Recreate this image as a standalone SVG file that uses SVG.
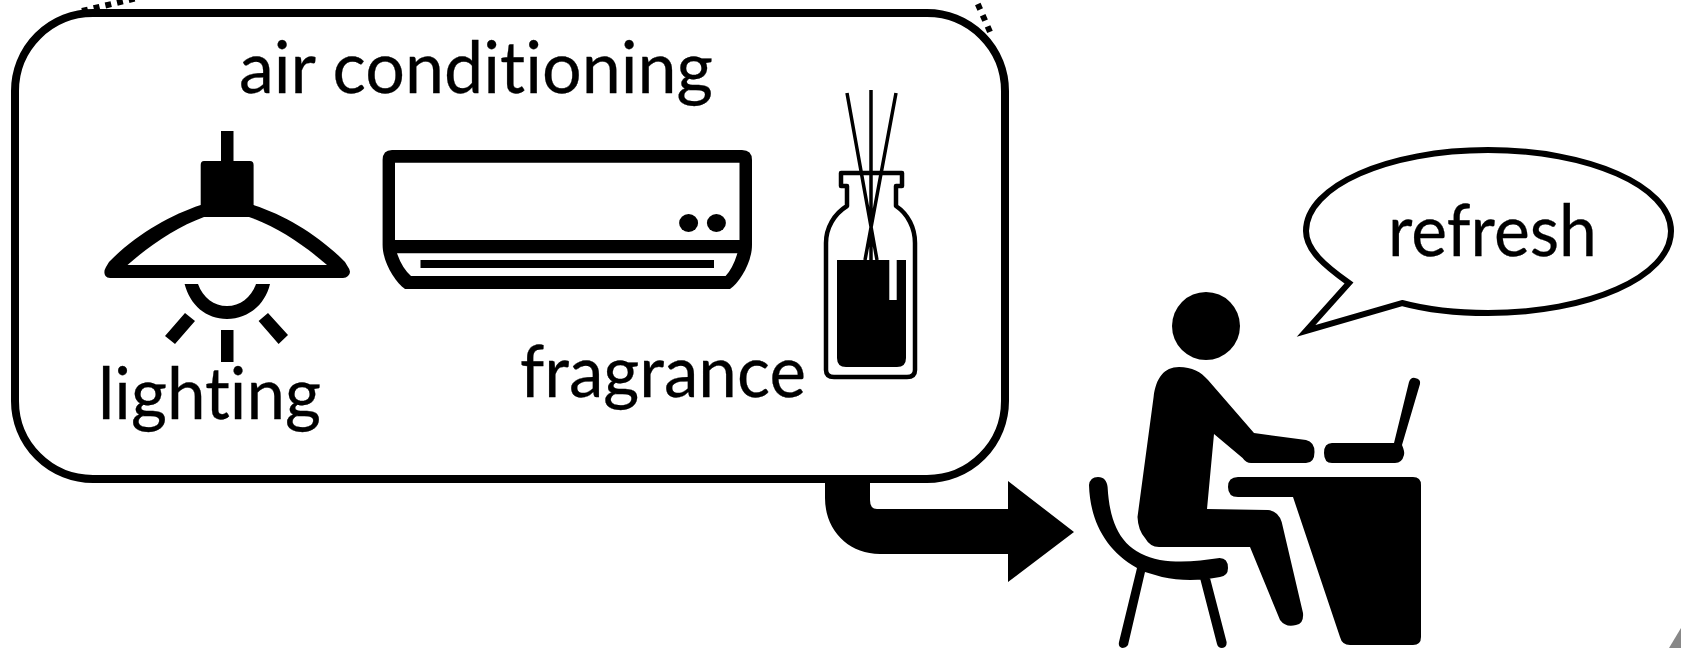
<svg xmlns="http://www.w3.org/2000/svg" width="1681" height="648" viewBox="0 0 1681 648">
<style>
.t{font-family:Lato,"Liberation Sans",sans-serif;font-size:71px;fill:#000;stroke:#000;stroke-width:.3px;font-variant-ligatures:none}
.k{fill:#000}
.w{fill:#fff}
.o{fill:none;stroke:#000}
.f{fill:#fff;stroke:#000}
</style>
<rect width="1681" height="648" fill="#fff"/>
<g id="background-marks">
<path class="o" d="M82 11L135 -1.500" stroke-width="6" stroke-dasharray="6 6"/>
<path class="o" d="M977.800 4L990.500 33" stroke-width="6" stroke-dasharray="6 6.200"/>
<path d="M1681 628L1669 648H1681Z" fill="#888"/>
</g>
<g id="connectors">
<path class="k" d="M825 480H870V500Q870 509 877 509H1008V481L1074 532L1008 582V554H880C848 554 825 530 825 498Z"/>
</g>
<g id="environment-box">
<rect class="f" x="15" y="13" width="990" height="466" rx="78" ry="78" stroke-width="8"/>
<text class="t" x="239" y="93" textLength="474" lengthAdjust="spacingAndGlyphs">air conditioning</text>
</g>
<g id="lighting">
<path class="k" d="M221 131H233.500V161H250Q253.600 161 253.600 165V205C285 215 320 236 345 262L348 267Q352 272 348 276Q346 278 343 278H110Q107 278 105.500 276Q103 272 106 267L109 262C134 236 170 215 200.700 205V165Q200.700 161 204 161H221Z"/>
<path class="w" d="M204 217H249C277 227 304 245 327 265H127.500C150 245 177 227 204 217Z"/>
<path class="k" d="M184.600 284H198C203 298 214 306 227 306C240 306 251 298 256 284H270C265 305 248 319 227 319C206 319 190 305 184.600 284Z"/>
<path class="k" d="M221 330H233.500V362H221ZM185 313L195 321L175 344L165 336ZM268 313L258.600 321L278.600 344L288 335Z"/>
<text class="t" x="98" y="419" textLength="223" lengthAdjust="spacingAndGlyphs">lighting</text>
</g>
<g id="air-conditioner">
<path class="k" d="M392 150H742Q752 150 752 160V245C752 262 740 282 730 289H405C395 282 382.600 262 382.600 245V160Q382.600 150 392 150Z"/>
<path class="w" d="M395 162.700H739.500V240H395ZM397 253.300H737.400Q733 268 725.600 276H411Q402 268 397 253.300Z"/>
<path class="k" d="M420.500 260H714V268H420.500Z"/>
<ellipse class="k" cx="688.600" cy="223" rx="9.500" ry="9"/>
<ellipse class="k" cx="716.400" cy="223" rx="9.500" ry="9"/>
</g>
<g id="fragrance">
<path class="o" d="M847 93L877 260M871 90V260M896 93L865 260" stroke-width="3.500"/>
<path class="o" stroke-width="4.500" stroke-linejoin="round" d="M841 173H902V186H896V206C908 214 915 228 915 243V370Q915 377 907 377H834Q826 377 826 370V243C826 228 834 214 847 206V186H841Z"/>
<path class="k" d="M837 260H889.300V300H896.700V260H906V358Q906 367 897 367H846Q837 367 837 358Z"/>
<text class="t" x="520" y="397" textLength="286" lengthAdjust="spacingAndGlyphs">fragrance</text>
</g>
<g id="person">
<circle class="k" cx="1206" cy="326" r="34"/>
<path class="k" d="M1179 367C1192 367 1201 372 1208 380L1254 433L1306 440Q1314.500 442 1314.500 452Q1314.500 463 1306 463H1251Q1246 463 1242.600 458L1214 434L1207 509L1268 510Q1278 511 1281.700 522L1303 613Q1304 624 1296 625Q1286 628 1280 620L1250 547H1159Q1150 547 1145 538Q1138 530 1137.500 517L1153.600 397C1156 378 1164 367 1179 367Z"/>
<path class="k" d="M1332 443H1394L1409 382Q1411 377 1415 378Q1421 379 1420 384L1402 445Q1405 452 1404 455Q1402 463 1395 463H1332Q1324 463 1324 453Q1324 443 1332 443Z"/>
<path class="k" d="M1238 477H1413Q1421 477 1421 485V637Q1421 645 1413 645H1350Q1342 645 1340 637L1293 497H1238Q1228 497 1228 487Q1228 477 1238 477Z"/>
<path class="k" d="M1098 477C1104 477 1107 481 1107.600 487C1110 530 1125 553 1160 560C1180 563 1200 561 1219.600 558Q1228 558 1228 568Q1228 576 1220 577C1200 581 1180 581 1162 577L1145 572L1128 645Q1126 648 1122 648Q1118 647 1119 642L1137 568C1105 550 1090 520 1089 485Q1090 477 1098 477ZM1200 578H1210L1226.600 642Q1227 648 1222 648Q1218 648 1217 644Z"/>
</g>
<g id="speech-bubble">
<path class="f" d="M1349 283C1325 266 1306 250 1306 231C1306 186 1388 150 1488 150C1588 150 1671 186 1671 231C1671 277 1588 313 1488 313C1458 313 1428 310 1402 303L1306 331Z" stroke-width="6"/>
<text class="t" x="1388" y="256" textLength="209" lengthAdjust="spacingAndGlyphs">refresh</text>
</g>
</svg>
